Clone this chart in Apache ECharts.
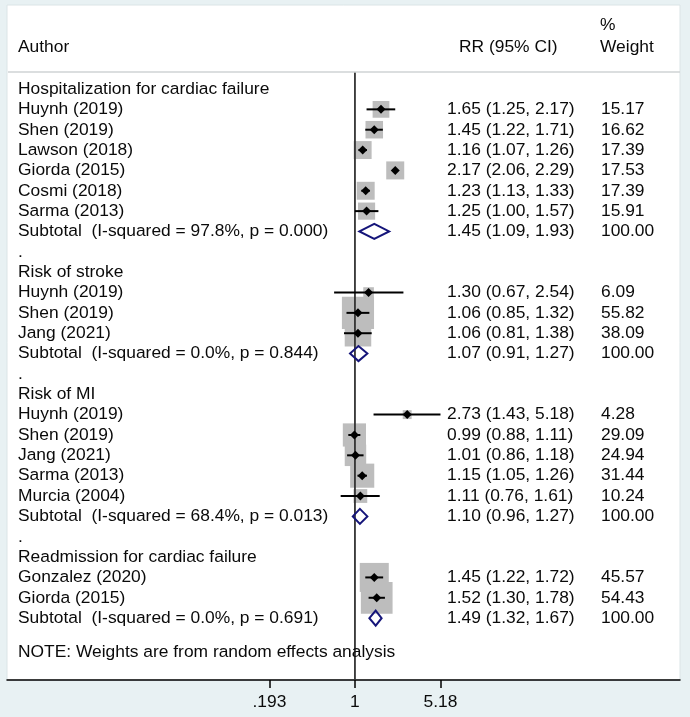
<!DOCTYPE html>
<html>
<head>
<meta charset="utf-8">
<script src="https://cdn.jsdelivr.net/npm/echarts@6/dist/echarts.min.js"></script>
<style>html,body{margin:0;padding:0;background:#fff;}#c{width:690px;height:717px;}</style>
</head>
<body>
<div id="c"></div>
<script>
// ---------- data ----------
const groupNames = ['Hospitalization for cardiac failure', 'Risk of stroke', 'Risk of MI', 'Readmission for cardiac failure'];
const studyNames = ['Huynh (2019)', 'Shen (2019)', 'Lawson (2018)', 'Giorda (2015)', 'Cosmi (2018)', 'Sarma (2013)',
  'Huynh (2019)', 'Shen (2019)', 'Jang (2021)',
  'Huynh (2019)', 'Shen (2019)', 'Jang (2021)', 'Sarma (2013)', 'Murcia (2004)',
  'Gonzalez (2020)', 'Giorda (2015)'];
const studyGroup = [0, 0, 0, 0, 0, 0, 1, 1, 1, 2, 2, 2, 2, 2, 3, 3];
const studyRR = [1.65, 1.45, 1.16, 2.17, 1.23, 1.25, 1.30, 1.06, 1.06, 2.73, 0.99, 1.01, 1.15, 1.11, 1.45, 1.52];
const studyLo = [1.25, 1.22, 1.07, 2.06, 1.13, 1.00, 0.67, 0.85, 0.81, 1.43, 0.88, 0.86, 1.05, 0.76, 1.22, 1.30];
const studyHi = [2.17, 1.71, 1.26, 2.29, 1.33, 1.57, 2.54, 1.32, 1.38, 5.18, 1.11, 1.18, 1.26, 1.61, 1.72, 1.78];
const studyWeight = [15.17, 16.62, 17.39, 17.53, 17.39, 15.91, 6.09, 55.82, 38.09, 4.28, 29.09, 24.94, 31.44, 10.24, 45.57, 54.43];
const subI2 = ['97.8%', '0.0%', '68.4%', '0.0%'];
const subP = ['0.000', '0.844', '0.013', '0.691'];
const subRR = [1.45, 1.07, 1.10, 1.49];
const subLo = [1.09, 0.91, 0.96, 1.32];
const subHi = [1.93, 1.27, 1.27, 1.67];
const subWeight = [100, 100, 100, 100];
const tickValues = [0.193, 1, 5.18];
const tickLabels = ['.193', '1', '5.18'];
const headerTexts = ['Author', 'RR (95% CI)', '%', 'Weight'];
const noteText = 'NOTE: Weights are from random effects analysis';

// ---------- build rows ----------
const ln = Math.log;
const fmt = v => v.toFixed(2);
const rows = [];
groupNames.forEach((g, gi) => {
  rows.push({ label: g, kind: 'head' });
  studyNames.forEach((n, i) => {
    if (studyGroup[i] === gi) rows.push({ label: n, rr: studyRR[i], lo: studyLo[i], hi: studyHi[i], w: studyWeight[i], kind: 'study' });
  });
  rows.push({ label: 'Subtotal  (I-squared = ' + subI2[gi] + ', p = ' + subP[gi] + ')', rr: subRR[gi], lo: subLo[gi], hi: subHi[gi], w: subWeight[gi], kind: 'sub' });
  if (gi < groupNames.length - 1) rows.push({ label: '.', kind: 'dot' });
});

const textData = rows.map((r, k) => [0, k]);
const boxData = [], ciData = [], subData = [];
rows.forEach((r, k) => {
  if (r.kind === 'study') {
    boxData.push([ln(r.rr), k, r.w]);
    ciData.push([ln(r.rr), k, ln(r.lo), ln(r.hi)]);
  } else if (r.kind === 'sub') {
    subData.push([ln(r.rr), k, ln(r.lo), ln(r.hi)]);
  }
});

const FAM = '"Liberation Sans", Arial, sans-serif';
const FONT = '17.4px ' + FAM;
const TXT = '#0a0a0a';
const yMin = -4.128, yMax = 29.04;
const headY = -2.06, pctY = -3.14, lineY = -0.835, noteY = 27.66;

const chart = echarts.init(document.getElementById('c'), null, { renderer: 'canvas' });
chart.setOption({
  backgroundColor: '#e8f1f3',
  animation: false,
  grid: { left: 7, right: 10, top: 5, bottom: 37, show: true, backgroundColor: '#ffffff', borderColor: '#dbe4e6', borderWidth: 1 },
  xAxis: {
    type: 'value', min: -6.69, max: 6.25,
    axisLine: { show: true, onZero: false, lineStyle: { color: '#000', width: 1.5 } },
    axisTick: { show: true, customValues: tickValues.map(ln), length: 8, lineStyle: { color: '#000', width: 1.5 } },
    axisLabel: { show: true, customValues: tickValues.map(ln), margin: 14, color: TXT, fontSize: 17.4, fontFamily: FAM,
      formatter: v => { let b = 0; tickValues.forEach((t, i) => { if (Math.abs(ln(t) - v) < Math.abs(ln(tickValues[b]) - v)) b = i; }); return tickLabels[b]; } },
    splitLine: { show: false }
  },
  yAxis: { type: 'value', inverse: true, min: yMin, max: yMax, show: false, splitLine: { show: false } },
  series: [
    { // header texts, header line, note
      type: 'custom', clip: false, silent: true, z: 3,
      data: [[0, 0]],
      renderItem: (params, api) => {
        const cs = params.coordSys;
        const yH = api.coord([0, headY])[1];
        const yP = api.coord([0, pctY])[1];
        const yL = api.coord([0, lineY])[1];
        const yN = api.coord([0, noteY])[1];
        const t = (s, x, y) => ({ type: 'text', style: { text: s, x: x, y: y, fill: TXT, font: FONT, align: 'left', verticalAlign: 'middle' } });
        return { type: 'group', children: [
          t(headerTexts[0], cs.x + 11, yH),
          t(headerTexts[1], cs.x + 452, yH),
          t(headerTexts[2], cs.x + 593, yP),
          t(headerTexts[3], cs.x + 593, yH),
          { type: 'line', shape: { x1: cs.x + 1, y1: yL, x2: cs.x + cs.width, y2: yL }, style: { stroke: '#cfd3d4', lineWidth: 1.6 } },
          t(noteText, cs.x + 11, yN)
        ] };
      }
    },
    { // null line
      type: 'line', z: 2, symbol: 'none', silent: true,
      data: [[0, lineY], [0, yMax]],
      lineStyle: { color: '#333', width: 1.8 }
    },
    { // row texts
      type: 'custom', clip: false, silent: true, z: 3,
      data: textData,
      renderItem: (params, api) => {
        const k = api.value(1);
        const r = rows[k];
        const cs = params.coordSys;
        const y = api.coord([0, k])[1];
        const t = (s, x) => ({ type: 'text', style: { text: s, x: x, y: y, fill: TXT, font: FONT, align: 'left', verticalAlign: 'middle' } });
        const ch = [t(r.label, cs.x + 11)];
        if (r.kind === 'study' || r.kind === 'sub') {
          ch.push(t(fmt(r.rr) + ' (' + fmt(r.lo) + ', ' + fmt(r.hi) + ')', cs.x + 440));
          ch.push(t(fmt(r.w), cs.x + 594));
        }
        return { type: 'group', children: ch };
      }
    },
    { // weight boxes
      type: 'custom', clip: false, silent: true, z: 1,
      data: boxData,
      renderItem: (params, api) => {
        const p = api.coord([api.value(0), api.value(1)]);
        const s = 4.3 * Math.sqrt(api.value(2));
        return { type: 'rect', shape: { x: p[0] - s / 2, y: p[1] - s / 2, width: s, height: s }, style: { fill: '#bdbdbd' } };
      }
    },
    { // CI lines and point markers
      type: 'custom', clip: false, silent: true, z: 4,
      data: ciData,
      renderItem: (params, api) => {
        const p = api.coord([api.value(0), api.value(1)]);
        const a = api.coord([api.value(2), api.value(1)]);
        const b = api.coord([api.value(3), api.value(1)]);
        const d = 4.5;
        return { type: 'group', children: [
          { type: 'line', shape: { x1: a[0], y1: a[1], x2: b[0], y2: b[1] }, style: { stroke: '#000', lineWidth: 2 } },
          { type: 'polygon', shape: { points: [[p[0] - d, p[1]], [p[0], p[1] - d], [p[0] + d, p[1]], [p[0], p[1] + d]] }, style: { fill: '#000' } }
        ] };
      }
    },
    { // subtotal diamonds
      type: 'custom', clip: false, silent: true, z: 4,
      data: subData,
      renderItem: (params, api) => {
        const p = api.coord([api.value(0), api.value(1)]);
        const a = api.coord([api.value(2), api.value(1)]);
        const b = api.coord([api.value(3), api.value(1)]);
        const h = 7.5;
        return { type: 'polygon', shape: { points: [[a[0], p[1]], [p[0], p[1] - h], [b[0], p[1]], [p[0], p[1] + h]] }, style: { fill: 'none', stroke: '#15157a', lineWidth: 2 } };
      }
    }
  ]
});
</script>
</body>
</html>
